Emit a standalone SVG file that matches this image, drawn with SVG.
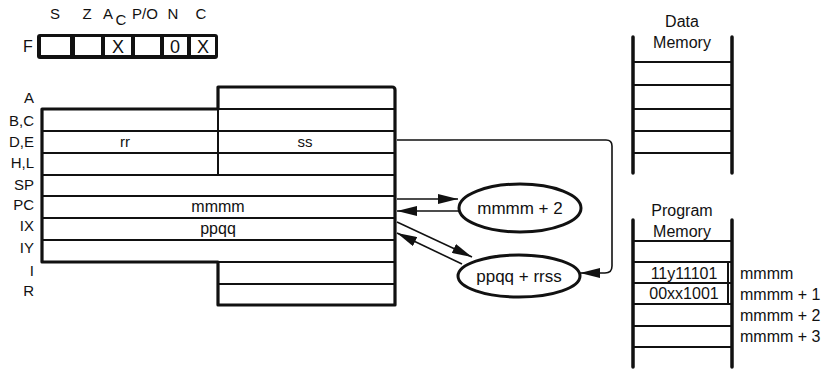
<svg xmlns="http://www.w3.org/2000/svg" width="829" height="372" viewBox="0 0 829 372">
<style>
  text { font-family: "Liberation Sans", Arial, sans-serif; font-size: 15px; fill: #111; }
  .lbl { text-anchor: end; }
  .mid { text-anchor: middle; }
  .big { font-size: 16px; }
  .fx { font-size: 18px; }
  .thick { fill: none; stroke: #111; stroke-width: 3.2; stroke-linejoin: round; }
  .thin { fill: none; stroke: #111; stroke-width: 2; }
  .rail { fill: none; stroke: #111; stroke-width: 3.5; stroke-linecap: round; }
  .conn { fill: none; stroke: #111; stroke-width: 1.6; }
  .ell { fill: #fff; stroke: #111; stroke-width: 3; }
</style>
<defs>
  <marker id="ah" viewBox="0 0 20 10" refX="20" refY="5" markerWidth="20" markerHeight="10" markerUnits="userSpaceOnUse" orient="auto">
    <path d="M0,0 L20,5 L0,10 Z" fill="#111"/>
  </marker>
</defs>

<g id="flags">
  <text x="55" y="19" class="mid">S</text>
  <text x="87" y="19" class="mid">Z</text>
  <text x="108" y="19" class="mid">A</text>
  <text x="121" y="25" class="mid">C</text>
  <text x="145" y="19" class="mid">P/O</text>
  <text x="173" y="19" class="mid">N</text>
  <text x="201" y="19" class="mid">C</text>
  <text x="28" y="52" class="mid big">F</text>
  <rect x="37" y="34" width="181" height="25" rx="3" fill="#111"/>
  <rect x="41" y="37" width="29" height="18" fill="#fff"/>
  <rect x="75" y="37" width="26" height="18" fill="#fff"/>
  <rect x="105" y="37" width="26" height="18" fill="#fff"/>
  <rect x="135" y="37" width="25" height="18" fill="#fff"/>
  <rect x="164" y="37" width="23" height="18" fill="#fff"/>
  <rect x="191" y="37" width="24" height="18" fill="#fff"/>
  <text x="118" y="53" class="mid fx">X</text>
  <text x="175" y="53" class="mid fx">0</text>
  <text x="203" y="53" class="mid fx">X</text>
</g>

<g id="registers">
  <text x="34" y="103" class="lbl">A</text>
  <text x="34" y="126" class="lbl">B,C</text>
  <text x="34" y="147" class="lbl">D,E</text>
  <text x="34" y="168" class="lbl">H,L</text>
  <text x="34" y="190" class="lbl">SP</text>
  <text x="34" y="210" class="lbl">PC</text>
  <text x="34" y="231" class="lbl">IX</text>
  <text x="34" y="253" class="lbl">IY</text>
  <text x="34" y="276" class="lbl">I</text>
  <text x="34" y="296" class="lbl">R</text>
  <path class="thin" d="M42,131 H395 M42,153 H395 M42,175 H395 M42,196 H395 M42,218 H395 M42,240 H395 M218,109 H395 M218,262 H395 M218,284 H395 M218,109 V175"/>
  <path class="thick" d="M42,109 H218 V87 H392 Q395,87 395,90 V305 H218 V262 H42 Z"/>
  <text x="125" y="147" class="mid">rr</text>
  <text x="305" y="147" class="mid">ss</text>
  <text x="218" y="212" class="mid big">mmmm</text>
  <text x="218" y="234" class="mid big">ppqq</text>
</g>

<g id="mmmm2">
  <ellipse cx="520" cy="208" rx="61" ry="24" class="ell"/>
  <text x="520" y="214" class="mid" style="font-size:17px">mmmm + 2</text>
</g>

<g id="ppqqrrss">
  <ellipse cx="519" cy="276" rx="61" ry="21" class="ell"/>
  <text x="519" y="282" class="mid" style="font-size:17px">ppqq + rrss</text>
</g>

<g id="dataMemory">
  <text x="682" y="27" class="mid big">Data</text>
  <text x="682" y="48" class="mid big">Memory</text>
  <path class="rail" d="M633,37 V173 M732,37 V173"/>
  <path class="thin" d="M633,62 H732 M633,85 H732 M633,109 H732 M633,131 H732 M633,153 H732"/>
</g>

<g id="programMemory">
  <text x="682" y="216" class="mid big">Program</text>
  <text x="682" y="237" class="mid big">Memory</text>
  <path class="rail" d="M633,220 V367 M732,220 V367"/>
  <path class="thin" d="M633,241 H732 M633,262 H732 M633,283 H732 M633,304 H732 M633,326 H732 M633,347 H732"/>
  <path class="thin" d="M728,262 V304"/>
  <text x="684" y="279" class="mid big">11y11101</text>
  <text x="684" y="299" class="mid big">00xx1001</text>
  <text x="740" y="279" class="big">mmmm</text>
  <text x="740" y="300" class="big">mmmm + 1</text>
  <text x="740" y="321" class="big">mmmm + 2</text>
  <text x="740" y="342" class="big">mmmm + 3</text>
</g>

<g id="connectors">
  <path class="conn" d="M397,199 H458" marker-end="url(#ah)"/>
  <path class="conn" d="M460,211 H397" marker-end="url(#ah)"/>
  <path class="conn" d="M397,222 L472,257" marker-end="url(#ah)"/>
  <path class="conn" d="M462,264 L397,233" marker-end="url(#ah)"/>
  <path class="conn" d="M397,140 H606 Q612,140 612,146 V266 Q612,273 605,273 H580" marker-end="url(#ah)"/>
</g>
</svg>
